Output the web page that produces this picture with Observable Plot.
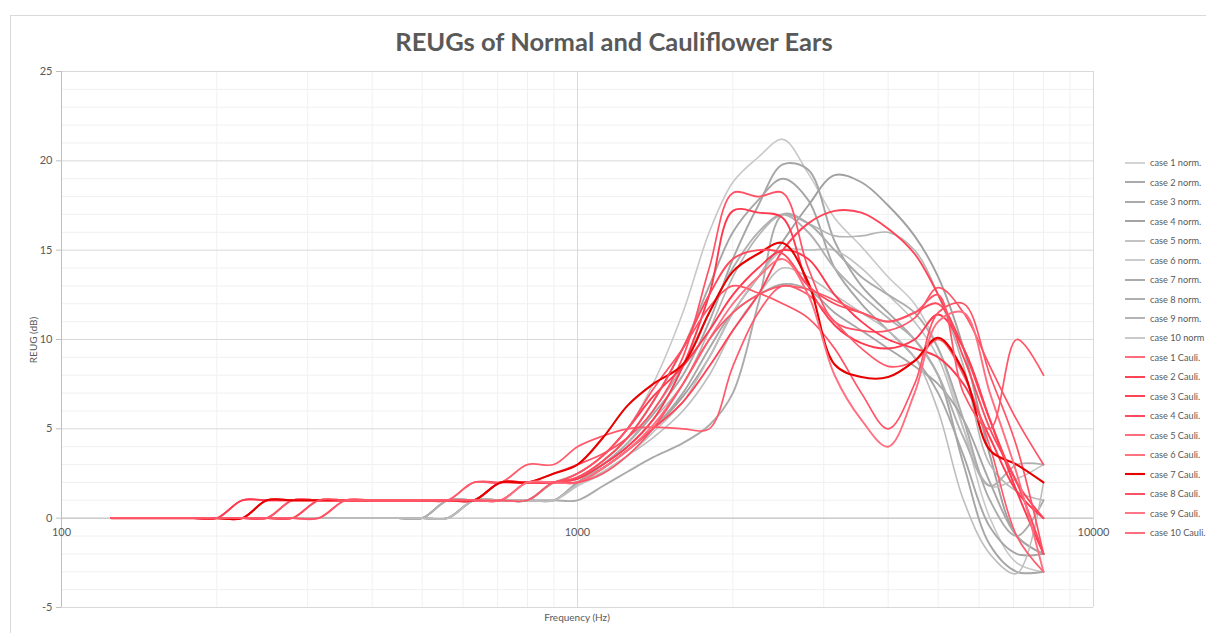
<!DOCTYPE html>
<html><head><meta charset="utf-8">
<script src="https://cdn.jsdelivr.net/npm/d3@7"></script>
<script src="https://cdn.jsdelivr.net/npm/@observablehq/plot@0.6"></script>
<style>
body{margin:0;background:#fff;font-family:Lato,"Open Sans",sans-serif;}
#wrap{position:relative;width:1206px;height:633px;overflow:hidden;background:#fff;}
#frame{position:absolute;left:10px;top:15px;width:1300px;height:700px;border-left:1px solid #d9d9d9;border-top:1px solid #d9d9d9;}
#chart{position:absolute;left:0;top:0;}
#title{position:absolute;left:0;width:1228px;top:26px;text-align:center;font-weight:bold;font-size:25.5px;color:#595959;}
#ylab{position:absolute;left:33px;top:340px;transform:translate(-50%,-50%) rotate(-90deg);font-size:10px;color:#595959;white-space:nowrap;}
#xlab{position:absolute;left:577px;top:611px;transform:translateX(-50%);font-size:10px;color:#595959;white-space:nowrap;}
#legend{position:absolute;left:1125px;top:153px;}
.item{height:19.47px;display:flex;align-items:center;font-size:9.2px;color:#595959;white-space:nowrap;}
.item svg{margin-right:5px;}
</style></head>
<body>
<div id="wrap">
  <div id="frame"></div>
  <div id="chart"></div>
  <div id="title">REUGs of Normal and Cauliflower Ears</div>
  <div id="ylab">REUG (dB)</div>
  <div id="xlab">Frequency (Hz)</div>
  <div id="legend"></div>
</div>
<script>
// Frequencies (Hz), 1/6-octave points
const freqs = [125,140,160,180,200,224,250,280,315,355,400,450,500,560,630,710,800,900,1000,1120,1250,1400,1600,1800,2000,2240,2500,2800,3150,3550,4000,4500,5000,5600,6300,7100,8000];

// Normal ears (REUG dB)
const case1Norm  = [0,0,0,0,0,0,0,0,0,0,0,0,0,1,1,1,1,2, 2.5,3.5,5.0,7.5,11.5,16.0,18.8,20.2,21.2,19.3,16.8,15.2,13.5,12.0,9.5,5.0,0,-2.5,-3.0];
const case2Norm  = [0,0,0,0,0,0,0,0,0,0,0,0,0,0,1,1,1,1, 2.0,3.0,4.2,5.8,8.0,11.0,14.5,17.5,19.8,19.5,15.5,13.0,11.5,10.0,8.0,3.0,-1.5,-3.0,-3.0];
const case3Norm  = [0,0,0,0,0,0,0,0,0,0,0,0,0,1,1,1,1,2, 2.2,3.2,4.5,6.5,9.5,13.0,16.0,17.8,19.0,17.8,14.0,12.0,10.5,9.0,7.0,3.5,-0.5,-2.0,-2.0];
const case4Norm  = [0,0,0,0,0,0,0,0,0,0,0,0,0,0,1,1,1,1, 2.0,2.8,3.8,5.0,6.8,9.0,11.5,13.5,15.5,17.5,19.2,18.8,17.5,15.8,13.5,9.5,3.5,-1.0,-2.0];
const case5Norm  = [0,0,0,0,0,0,0,0,0,0,0,0,0,1,1,1,1,2, 2.0,3.0,4.0,5.5,7.5,10.5,13.5,15.8,17.0,16.5,15.8,15.8,16.0,15.0,12.5,8.5,3.0,1.5,1.0];
const case6Norm  = [0,0,0,0,0,0,0,0,0,0,0,0,0,0,1,1,1,1, 1.8,2.5,3.5,4.8,6.5,9.0,11.5,13.5,15.0,15.0,15.0,14.0,12.5,11.0,9.0,5.0,1.8,2.2,3.0];
const case7Norm  = [0,0,0,0,0,0,0,0,0,0,0,0,0,1,1,1,1,2, 2.0,2.8,3.8,5.0,7.0,9.5,11.5,12.5,13.1,12.8,11.5,10.5,9.5,8.5,7.5,5.5,2.0,-1.0,-2.0];
const case8Norm  = [0,0,0,0,0,0,0,0,0,0,0,0,0,0,1,1,1,1, 1.0,1.8,2.6,3.4,4.2,5.2,7.0,12.0,17.0,16.5,15.0,13.5,12.5,11.5,9.5,5.5,1.0,-1.0,1.0];
const case9Norm  = [0,0,0,0,0,0,0,0,0,0,0,0,0,1,1,1,1,2, 2.2,3.0,4.2,6.0,8.5,11.5,14.0,16.0,17.0,16.0,14.0,12.5,11.2,10.0,8.0,4.5,1.8,3.0,3.0];
const case10Norm = [0,0,0,0,0,0,0,0,0,0,0,0,0,0,1,1,1,1, 1.9,2.6,3.5,4.5,6.0,8.0,10.5,12.5,14.0,13.5,12.5,11.5,10.5,9.0,6.0,1.0,-2.0,-3.1,2.0];

// Cauliflower ears (REUG dB)
const case1Cauli  = [0,0,0,0,0,1,1,1,1,1,1,1,1,1,2,2,2,2.5, 3.0,3.6,4.5,6.0,9.0,14.0,18.2,18.0,18.2,14.0,11.0,10.5,10.5,11.2,12.9,11.5,8.5,5.5,3.0];
const case2Cauli  = [0,0,0,0,0,1,1,1,1,1,1,1,1,1,1,2,2,2, 2.2,3.0,4.0,5.5,8.5,12.5,17.2,17.1,16.8,13.0,10.8,9.8,9.5,10.0,11.4,9.5,5.5,1.5,-2.0];
const case3Cauli  = [0,0,0,0,0,0,1,1,1,1,1,1,1,1,1,2,2,2, 2.5,3.5,5.0,6.8,8.5,10.5,12.5,14.0,15.0,14.5,12.5,11.0,10.0,9.5,9.0,7.5,4.5,1.5,0];
const case4Cauli  = [0,0,0,0,0,0,0,1,1,1,1,1,1,1,1,2,2,2, 2.0,2.8,3.8,5.0,6.5,8.5,10.5,12.5,15.0,16.5,17.2,17.1,16.2,14.8,12.5,9.5,5.5,2.0,0];
const case5Cauli  = [0,0,0,0,0,0,0,1,1,1,1,1,1,1,1,1,2,2, 2.5,3.5,5.0,7.2,9.5,11.8,13.0,12.6,12.0,11.2,9.5,7.0,5.0,7.5,11.5,12.0,8.0,4.0,-2.0];
const case6Cauli  = [0,0,0,0,0,0,0,0,1,1,1,1,1,1,2,2,3,3, 4.0,4.6,5.0,5.1,5.0,5.0,8.5,11.5,13.0,12.5,11.0,9.5,8.5,8.8,10.0,8.0,4.0,-1.0,-3.0];
const case7Cauli  = [0,0,0,0,0,0,1,1,1,1,1,1,1,1,1,2,2,2.5, 3.0,4.5,6.3,7.5,8.6,11.5,13.8,14.8,15.4,13.2,8.6,7.9,7.9,8.8,10.1,8.2,3.8,3.0,2.0];
const case8Cauli  = [0,0,0,0,0,0,0,0,1,1,1,1,1,1,1,1,2,2, 2.3,3.2,4.5,6.5,9.5,12.5,14.5,15.0,14.8,13.0,12.0,11.5,11.0,11.5,12.0,9.0,5.0,2.0,-2.0];
const case9Cauli  = [0,0,0,0,0,0,0,0,0,1,1,1,1,1,1,1,2,2, 2.0,2.8,3.8,5.2,7.5,10.0,12.0,13.5,14.5,12.5,8.0,5.5,4.0,7.0,11.0,11.5,7.0,2.5,-3.0];
const case10Cauli = [0,0,0,0,0,0,0,0,0,1,1,1,1,1,1,1,1,2, 2.0,2.5,3.5,5.0,7.5,10.0,11.5,12.5,13.0,12.8,12.2,11.5,11.0,11.5,12.5,7.0,5.0,10.0,8.0];

const seriesNames = ["case 1 norm.","case 2 norm.","case 3 norm.","case 4 norm.","case 5 norm.","case 6 norm.","case 7 norm.","case 8 norm.","case 9 norm.","case 10 norm",
  "case 1 Cauli.","case 2 Cauli.","case 3 Cauli.","case 4 Cauli.","case 5 Cauli.","case 6 Cauli.","case 7 Cauli.","case 8 Cauli.","case 9 Cauli.","case 10 Cauli."];
const seriesValues = [case1Norm,case2Norm,case3Norm,case4Norm,case5Norm,case6Norm,case7Norm,case8Norm,case9Norm,case10Norm,
  case1Cauli,case2Cauli,case3Cauli,case4Cauli,case5Cauli,case6Cauli,case7Cauli,case8Cauli,case9Cauli,case10Cauli];
const seriesColors = ["#c8c8c8","#a6a6a6","#a6a6a6","#a0a0a0","#b4b4b4","#c0c0c0","#a6a6a6","#ababab","#b0b0b0","#bdbdbd",
  "#ff5365","#ff3a50","#ff3a50","#ff4357","#ff5365","#ff5a6b","#e60000","#ff4a5c","#ff6f80","#ff5567"];
const seriesWidths = [1.6,1.9,1.9,1.9,1.6,1.6,1.9,1.9,1.9,1.6, 1.7,1.9,1.9,1.9,1.7,1.7,2.1,1.9,1.9,1.7];

const yMajor = [-5,0,5,10,15,20,25];
const yMinor = d3.range(-5,26,1).filter(v => v % 5 !== 0);
const xMajor = [100,1000,10000];
const xMinor = [200,300,400,500,600,700,800,900,2000,3000,4000,5000,6000,7000,8000,9000];

const series = seriesNames.map((name,i)=>({name, values: seriesValues[i], color: seriesColors[i], width: seriesWidths[i]}));

const lineMarks = series.map(s => Plot.line(freqs.map((f,i)=>({f, v: s.values[i]})), {
  x:"f", y:"v", stroke: s.color, strokeWidth: s.width, curve:"catmull-rom"
}));

const chart = Plot.plot({
  width:1206, height:633,
  marginLeft:61, marginRight:113, marginTop:71, marginBottom:26,
  x:{type:"log", domain:[100,10000], axis:null},
  y:{domain:[-5,25]},
  style:{fontFamily:"Lato, 'Open Sans', sans-serif", fontSize:"11px", color:"#595959", background:"transparent", overflow:"visible"},
  marks:[
    Plot.gridY(yMinor, {stroke:"#f0f0f0", strokeOpacity:1}),
    Plot.gridX(xMinor, {stroke:"#f0f0f0", strokeOpacity:1}),
    Plot.gridY(yMajor, {stroke:"#d9d9d9", strokeOpacity:1}),
    Plot.gridX(xMajor, {stroke:"#d9d9d9", strokeOpacity:1}),
    Plot.ruleY([0], {stroke:"#bfbfbf"}),
    Plot.ruleX([100], {stroke:"#bfbfbf"}),
    Plot.axisY(yMajor, {tickSize:5, tickPadding:4, label:null, stroke:"#bfbfbf", fill:"#595959", tickFormat:d=>String(d)}),
    Plot.text(xMajor, {x:d=>d, y:0, dy:14, text:d=>String(d), fill:"#595959", fontSize:11}),
    ...lineMarks
  ]
});
document.getElementById("chart").appendChild(chart);

const legend = document.getElementById("legend");
series.forEach(s=>{
  const div = document.createElement("div");
  div.className = "item";
  div.innerHTML = `<svg width="20" height="4"><line x1="0" x2="20" y1="2" y2="2" stroke="${s.color}" stroke-width="${s.width}"/></svg><span>${s.name}</span>`;
  legend.appendChild(div);
});
</script>
</body></html>
